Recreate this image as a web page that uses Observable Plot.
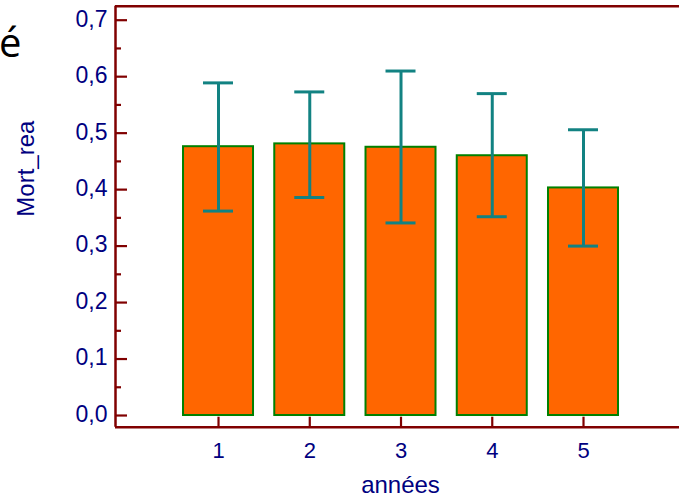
<!DOCTYPE html>
<html>
<head>
<meta charset="utf-8">
<script src="https://cdn.jsdelivr.net/npm/d3@7"></script>
<script src="https://cdn.jsdelivr.net/npm/@observablehq/plot@0.6"></script>
<style>
  html, body { margin: 0; padding: 0; background: #fff; }
  #wrap { position: relative; width: 679px; height: 498px; overflow: hidden; }
  #title { position: absolute; left: -1px; top: 22px; font-family: "Open Sans", sans-serif; font-size: 40px; color: #000; line-height: 1; }
</style>
</head>
<body>
<div id="wrap"><div id="title">é</div></div>
<script>
// data
const years = [1, 2, 3, 4, 5];
const means = [0.476, 0.481, 0.475, 0.460, 0.403];
const upper = [0.589, 0.573, 0.610, 0.570, 0.506];
const lower = [0.362, 0.386, 0.341, 0.352, 0.300];
const yMajorTicks = [0, 0.1, 0.2, 0.3, 0.4, 0.5, 0.6, 0.7];
const yMinorTicks = [0.05, 0.15, 0.25, 0.35, 0.45, 0.55, 0.65];
const xTicks = [1, 2, 3, 4, 5];
const xLabel = "années";
const yLabel = "Mort_rea";

const data = years.map((y, i) => ({year: y, mean: means[i], hi: upper[i], lo: lower[i]}));

const xDomain = [-0.129, 6.052];
const yDomain = [-0.0207, 0.7248];
const axisColor = "#800000";
const textColor = "#000080";
const fmt = d => d.toFixed(1).replace(".", ",");

const chart = Plot.plot({
  width: 679,
  height: 498,
  marginLeft: 115,
  marginRight: 0,
  marginTop: 5.7,
  marginBottom: 71.3,
  style: {fontFamily: "'Liberation Sans', Arial, sans-serif", background: "transparent"},
  x: {type: "linear", domain: xDomain, axis: null},
  y: {type: "linear", domain: yDomain, axis: null},
  marks: [
    // bars
    Plot.rectY(data, {x1: "year", x2: "year", y1: 0, y2: "mean", insetLeft: -35, insetRight: -35,
      fill: "#ff6600", stroke: "#008000", strokeWidth: 2}),
    // error bars
    Plot.ruleX(data, {x: "year", y1: "lo", y2: "hi", stroke: "#128282", strokeWidth: 3}),
    Plot.ruleY(data, {y: "hi", x1: "year", x2: "year", insetLeft: -15, insetRight: -15, stroke: "#128282", strokeWidth: 3}),
    Plot.ruleY(data, {y: "lo", x1: "year", x2: "year", insetLeft: -15, insetRight: -15, stroke: "#128282", strokeWidth: 3}),
    // frame lines (left, top, bottom)
    Plot.ruleX([xDomain[0]], {y1: yDomain[0], y2: yDomain[1], stroke: axisColor, strokeWidth: 2.5}),
    Plot.ruleY([yDomain[0], yDomain[1]], {x1: xDomain[0], x2: xDomain[1], stroke: axisColor, strokeWidth: 2.5}),
    // y ticks (inward)
    Plot.ruleY(yMajorTicks, {y: d => d, x1: xDomain[0], x2: xDomain[0], insetRight: -12, stroke: axisColor, strokeWidth: 2.2}),
    Plot.ruleY(yMinorTicks, {y: d => d, x1: xDomain[0], x2: xDomain[0], insetRight: -6, stroke: axisColor, strokeWidth: 2.2}),
    // x ticks (upward)
    Plot.ruleX(xTicks, {x: d => d, y1: yDomain[0], y2: yDomain[0], insetTop: -10, stroke: axisColor, strokeWidth: 2.2}),
    // y tick labels
    Plot.text(yMajorTicks, {y: d => d, x: xDomain[0], text: fmt, textAnchor: "end", dx: -8, dy: -1, fill: textColor, fontSize: 23, lineAnchor: "middle"}),
    // x tick labels
    Plot.text(xTicks, {x: d => d, y: yDomain[0], text: d => String(d), dy: 15, lineAnchor: "top", fill: textColor, fontSize: 22}),
    // axis titles
    Plot.text([xLabel], {frameAnchor: "bottom", text: d => d, dx: 3, dy: 66, lineAnchor: "bottom", fill: textColor, fontSize: 24}),
    Plot.text([yLabel], {frameAnchor: "left", text: d => d, rotate: -90, dx: -89, lineAnchor: "middle", fill: textColor, fontSize: 24})
  ]
});
chart.style.position = "absolute";
chart.style.left = "0";
chart.style.top = "0";
chart.setAttribute("overflow", "visible");
document.getElementById("wrap").appendChild(chart);
</script>
</body>
</html>
